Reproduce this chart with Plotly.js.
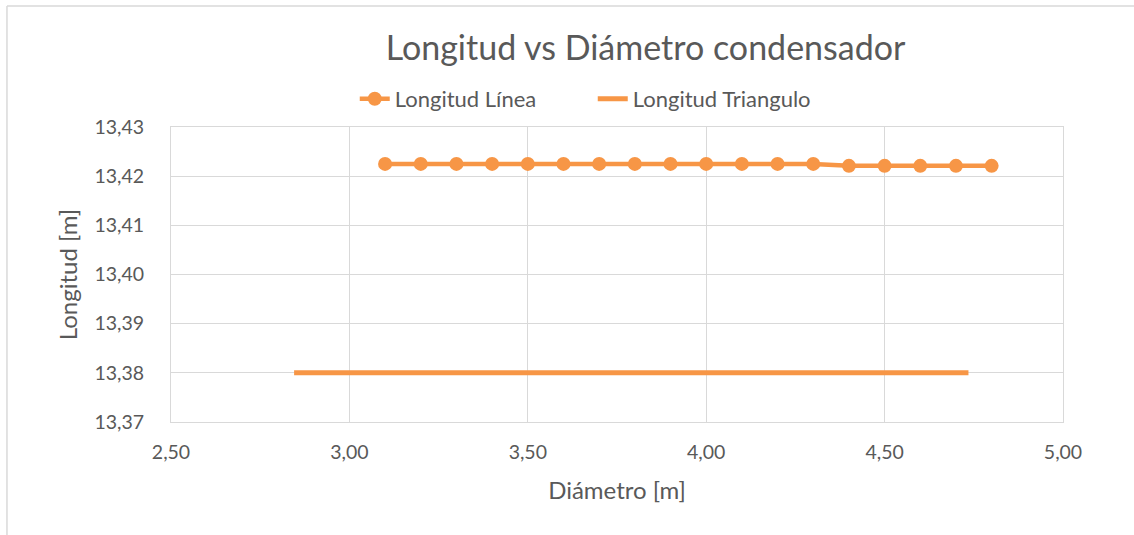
<!DOCTYPE html>
<html>
<head>
<meta charset="utf-8">
<script src="https://cdn.plot.ly/plotly-3.0.1.min.js"></script>
<style>html,body{margin:0;padding:0;background:#fff;}#chart{width:1134px;height:535px;}</style>
</head>
<body>
<div id="chart"></div>
<script>
const diametroLinea = [3.10,3.20,3.30,3.40,3.50,3.60,3.70,3.80,3.90,4.00,4.10,4.20,4.30,4.40,4.50,4.60,4.70,4.80];
const longitudLinea = [13.4225,13.4225,13.4225,13.4225,13.4225,13.4225,13.4225,13.4225,13.4225,13.4225,13.4225,13.4225,13.4225,13.4221,13.4221,13.4221,13.4221,13.4221];
const diametroTriangulo = [2.845,4.735];
const longitudTriangulo = [13.38,13.38];
const xTicks = [2.5,3.0,3.5,4.0,4.5,5.0];
const yTicks = [13.37,13.38,13.39,13.40,13.41,13.42,13.43];

const orange = '#F79646';
const grid = '#D9D9D9';
const txt = '#595959';
const fontFam = 'Lato, "Open Sans", sans-serif';

const traces = [
  {x: diametroLinea, y: longitudLinea, name: 'Longitud Línea', type: 'scatter', mode: 'lines+markers',
   line: {color: orange, width: 4.5}, marker: {color: orange, size: 14}},
  {x: diametroTriangulo, y: longitudTriangulo, name: 'Longitud Triangulo', type: 'scatter', mode: 'lines',
   line: {color: orange, width: 5}}
];

const layout = {
  width: 1134, height: 535,
  margin: {l: 171, r: 71, t: 127, b: 113},
  paper_bgcolor: '#fff', plot_bgcolor: '#fff',
  separators: ',.',
  font: {family: fontFam, color: txt, size: 19},
  title: {text: 'Longitud vs Diámetro condensador', font: {size: 34, color: txt, family: fontFam},
          xref: 'paper', x: 0.532, xanchor: 'center', yref: 'container', y: 0.91, yanchor: 'middle'},
  showlegend: true,
  legend: {orientation: 'h', x: 0.206, xanchor: 'left', y: 1.095, yanchor: 'middle',
           font: {size: 22, color: txt}, itemwidth: 30, traceorder: 'normal', entrywidth: 193},
  xaxis: {range: [2.5, 5.0], tickvals: xTicks, tickformat: '.2f', showgrid: true, gridcolor: grid, gridwidth: 1,
          zeroline: false, showline: true, linecolor: grid, linewidth: 1, mirror: true, ticks: '',
          ticklabelstandoff: 13, tickfont: {size: 19.5, color: txt},
          title: {text: 'Diámetro [m]', font: {size: 24, color: txt}, standoff: 19}},
  yaxis: {range: [13.37, 13.43], tickvals: yTicks, tickformat: '.2f', showgrid: true, gridcolor: grid, gridwidth: 1,
          zeroline: false, showline: true, linecolor: grid, linewidth: 1, mirror: true, ticks: '',
          ticklabelstandoff: 22, tickfont: {size: 19.5, color: txt},
          title: {text: 'Longitud [m]', font: {size: 24, color: txt}, standoff: 10}},
  shapes: [
    {type: 'line', xref: 'paper', yref: 'paper', x0: -0.1839, x1: 1.08, y0: 1.41, y1: 1.41, line: {color: grid, width: 1.5}},
    {type: 'line', xref: 'paper', yref: 'paper', x0: -0.1839, x1: -0.1839, y0: 1.41, y1: -0.39, line: {color: grid, width: 1.5}}
  ]
};

Plotly.newPlot('chart', traces, layout, {displayModeBar: false, staticPlot: true});
</script>
</body>
</html>
